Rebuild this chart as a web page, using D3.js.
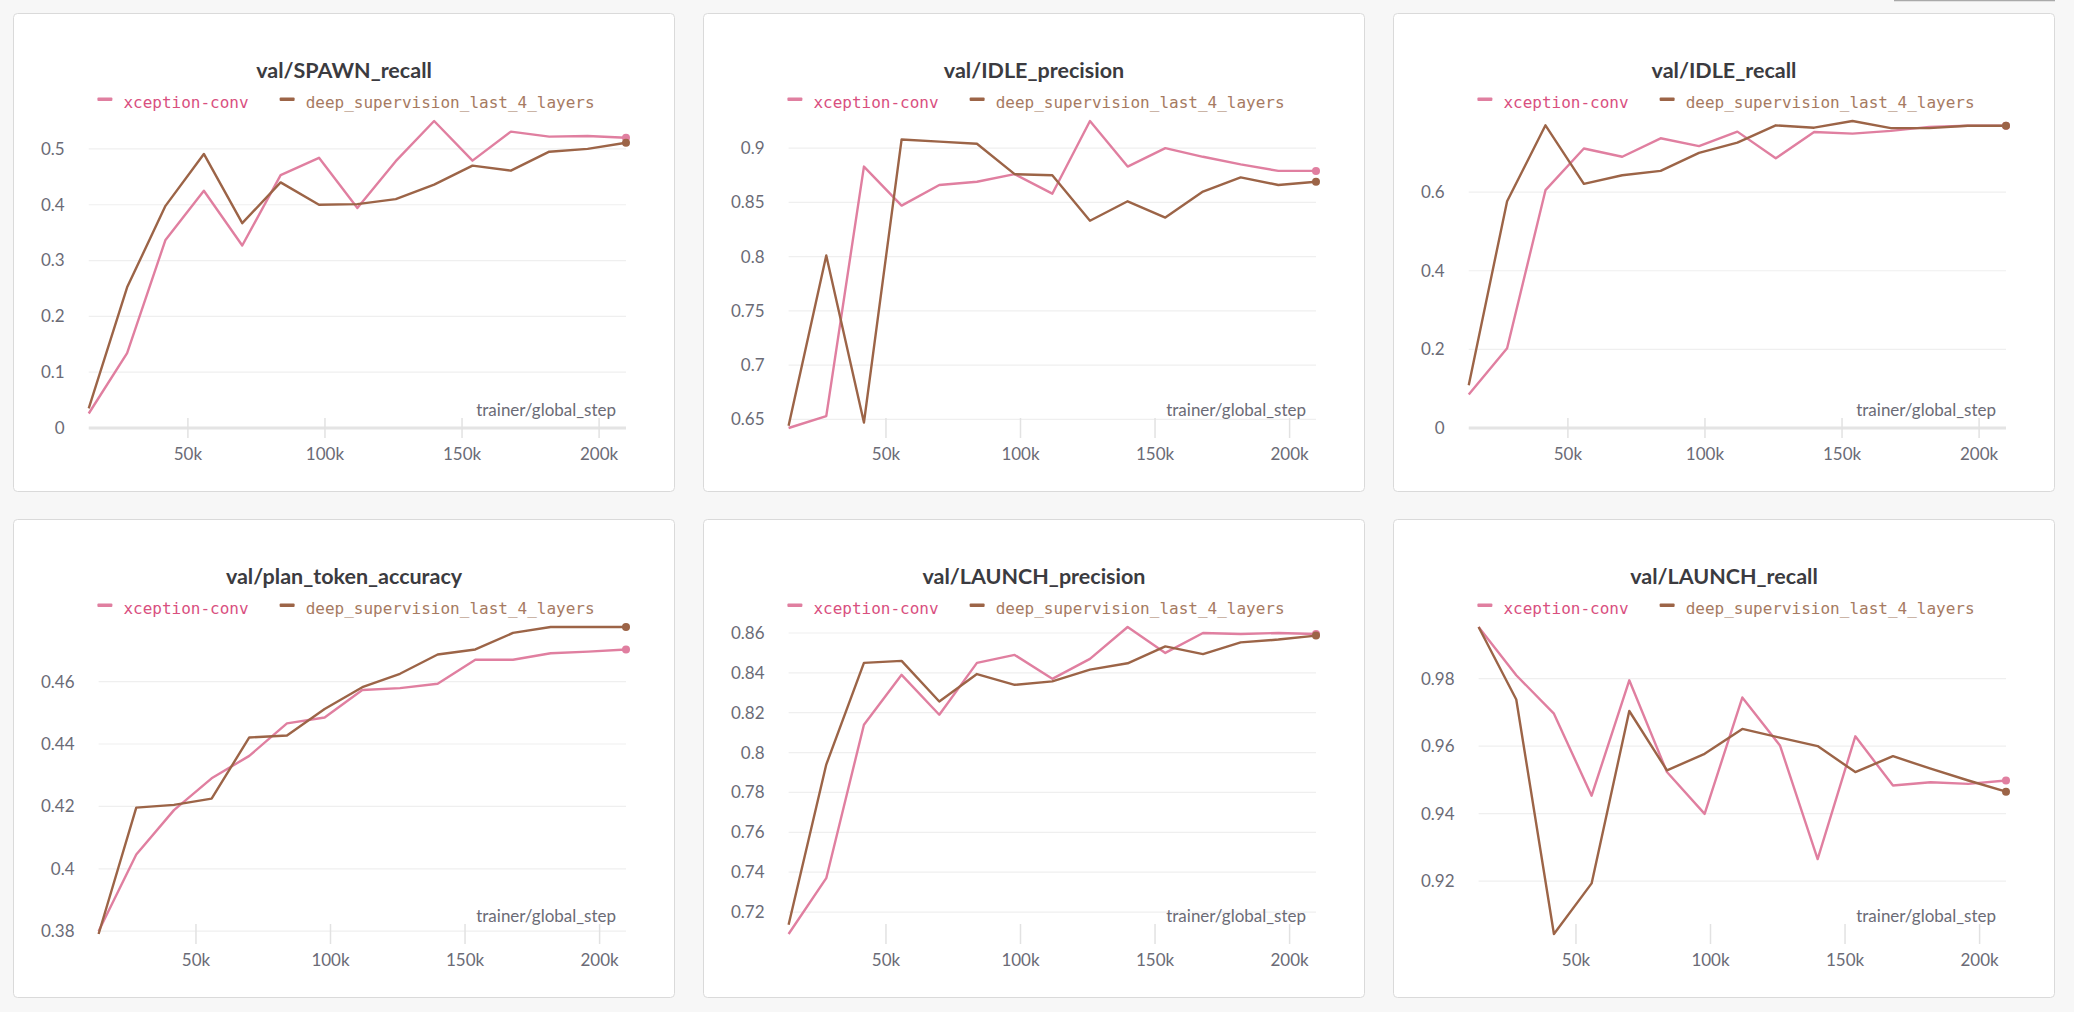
<!DOCTYPE html>
<html>
<head>
<meta charset="utf-8">
<script src="https://cdn.jsdelivr.net/npm/d3@7"></script>
<style>
  body { margin: 0; background: #f7f7f7; }
  svg { display: block; }
</style>
</head>
<body>
<div id="chart"></div>
<script>
// global steps shared by every run
const steps = [14000, 28000, 42000, 56000, 70000, 84000, 98000, 112000, 126000, 140000, 154000, 168000, 182000, 196000, 210000];
const xTicks = [50000, 100000, 150000, 200000];
const runNames = ["xception-conv", "deep_supervision_last_4_layers"];

// values
const spawnRecallXception = [0.026, 0.134, 0.337, 0.425, 0.327, 0.453, 0.484, 0.394, 0.478, 0.550, 0.479, 0.531, 0.522, 0.523, 0.520];
const spawnRecallDeep = [0.035, 0.252, 0.398, 0.491, 0.367, 0.440, 0.400, 0.401, 0.410, 0.436, 0.470, 0.461, 0.495, 0.500, 0.511];

const idlePrecisionXception = [0.642, 0.653, 0.883, 0.847, 0.866, 0.869, 0.876, 0.858, 0.925, 0.883, 0.900, 0.892, 0.885, 0.879, 0.879];
const idlePrecisionDeep = [0.644, 0.801, 0.647, 0.908, 0.906, 0.904, 0.876, 0.875, 0.833, 0.851, 0.836, 0.860, 0.873, 0.866, 0.869];

const idleRecallXception = [0.085, 0.203, 0.605, 0.711, 0.690, 0.737, 0.717, 0.754, 0.686, 0.753, 0.749, 0.756, 0.766, 0.769, 0.769];
const idleRecallDeep = [0.109, 0.577, 0.770, 0.621, 0.643, 0.654, 0.700, 0.726, 0.770, 0.764, 0.781, 0.763, 0.763, 0.769, 0.769];

const planAccXception = [0.380, 0.4046, 0.4188, 0.429, 0.4362, 0.4466, 0.4485, 0.4573, 0.4579, 0.4593, 0.467, 0.467, 0.4691, 0.4696, 0.4703];
const planAccDeep = [0.3791, 0.4196, 0.4205, 0.4225, 0.4421, 0.4427, 0.4512, 0.4582, 0.4625, 0.4687, 0.4703, 0.4756, 0.4775, 0.4775, 0.4775];

const launchPrecisionXception = [0.709, 0.737, 0.814, 0.839, 0.819, 0.845, 0.849, 0.837, 0.847, 0.863, 0.850, 0.860, 0.8595, 0.860, 0.8595];
const launchPrecisionDeep = [0.7136, 0.794, 0.845, 0.846, 0.8256, 0.8394, 0.834, 0.8357, 0.8416, 0.8448, 0.8533, 0.8494, 0.8553, 0.8567, 0.8587];

const launchRecallXception = [0.9953, 0.981, 0.9696, 0.9453, 0.9795, 0.9523, 0.9399, 0.9744, 0.9602, 0.9265, 0.9629, 0.9483, 0.9493, 0.9488, 0.9498];
const launchRecallDeep = [0.9953, 0.9738, 0.9043, 0.9193, 0.9704, 0.9528, 0.9577, 0.9651, 0.9625, 0.960, 0.9523, 0.957, 0.9533, 0.9498, 0.9465];

const panels = [
  { title: "val/SPAWN_recall", series: [spawnRecallXception, spawnRecallDeep], fromZero: true },
  { title: "val/IDLE_precision", series: [idlePrecisionXception, idlePrecisionDeep], fromZero: false },
  { title: "val/IDLE_recall", series: [idleRecallXception, idleRecallDeep], fromZero: true },
  { title: "val/plan_token_accuracy", series: [planAccXception, planAccDeep], fromZero: false },
  { title: "val/LAUNCH_precision", series: [launchPrecisionXception, launchPrecisionDeep], fromZero: false },
  { title: "val/LAUNCH_recall", series: [launchRecallXception, launchRecallDeep], fromZero: false }
];

const W = 2074, H = 1012;
const lineColors = ["#e07fa0", "#9c6447"];
const textColors = ["#d9507f", "#a67a62"];
const sans = "'Source Sans Pro', Lato, 'Open Sans', sans-serif";
const mono = "'DejaVu Sans Mono', 'Liberation Mono', monospace";

const colLeft = [13, 703, 1393];
const rowTop = [13, 519];
const panelW = 662, panelH = 479;

const svg = d3.select("#chart").append("svg")
  .attr("width", W).attr("height", H);

// bit of the toolbar button peeking in at the top right
svg.append("line")
  .attr("x1", 1894).attr("x2", 2055).attr("y1", 0.5).attr("y2", 0.5)
  .attr("stroke", "#a9a9a9").attr("stroke-width", 1.5);

const fmtY = d => String(+d.toFixed(6));

panels.forEach((p, idx) => {
  const px = colLeft[idx % 3], py = rowTop[Math.floor(idx / 3)];
  const g = svg.append("g").attr("transform", `translate(${px},${py})`);

  g.append("rect")
    .attr("x", 0.5).attr("y", 0.5)
    .attr("width", panelW - 1).attr("height", panelH - 1)
    .attr("rx", 4)
    .attr("fill", "#fff").attr("stroke", "#dadada");

  g.append("text")
    .attr("x", panelW / 2).attr("y", 65)
    .attr("text-anchor", "middle")
    .attr("font-family", sans).attr("font-weight", 700).attr("font-size", 21.5)
    .attr("fill", "#3b3b40")
    .text(p.title);

  // legend, centered on the panel
  const leg = g.append("g");
  let lx = 0;
  runNames.forEach((name, i) => {
    leg.append("rect")
      .attr("x", lx).attr("y", 84.5).attr("width", 15).attr("height", 3.5)
      .attr("rx", 1).attr("fill", lineColors[i]);
    const t = leg.append("text")
      .attr("x", lx + 26).attr("y", 95)
      .attr("font-family", mono).attr("font-size", 16)
      .attr("fill", textColors[i])
      .text(name);
    lx += 26 + t.node().getComputedTextLength() + 31;
  });
  const legW = lx - 31;
  leg.attr("transform", `translate(${(panelW - legW) / 2 + 2},0)`);

  const all = p.series.flat();
  const yMin = p.fromZero ? 0 : d3.min(all);
  const yMax = d3.max(all);
  const top = 108, bottom = 415, right = 613;

  const yTmp = d3.scaleLinear().domain([yMin, yMax]);
  const yTickVals = yTmp.ticks(5).filter(v => v >= yMin - 1e-9 && v <= yMax + 1e-9);

  // measure tick labels to place the plot's left edge
  const labels = g.append("g");
  labels.selectAll("text").data(yTickVals).join("text")
    .attr("font-family", sans).attr("font-size", 17)
    .attr("fill", "#6b6b76")
    .attr("text-anchor", "end")
    .text(fmtY);
  const maxLab = d3.max(labels.selectAll("text").nodes(), n => n.getComputedTextLength());
  const left = 28 + maxLab + 24;

  const x = d3.scaleLinear().domain([steps[0], steps[steps.length - 1]]).range([left, right]);
  const y = d3.scaleLinear().domain([yMin, yMax]).range([bottom, top]);

  labels.selectAll("text")
    .attr("x", left - 24)
    .attr("y", d => y(d))
    .attr("dy", "0.35em");

  // grid
  g.append("g").selectAll("line").data(yTickVals).join("line")
    .attr("x1", left).attr("x2", right)
    .attr("y1", d => y(d)).attr("y2", d => y(d))
    .attr("stroke", d => d === 0 ? "#e4e4e4" : "#efefef")
    .attr("stroke-width", d => d === 0 ? 3 : 1.2);

  // x axis ticks
  const xAxis = d3.axisBottom(x)
    .tickValues(xTicks)
    .tickSize(10)
    .tickFormat(d => d / 1000 + "k");
  const xa = g.append("g").attr("transform", `translate(0,${bottom})`).call(xAxis);
  xa.select(".domain").remove();
  xa.selectAll(".tick line")
    .attr("y1", -10).attr("y2", 10)
    .attr("stroke", "#e2e2e2").attr("stroke-width", 1.5);
  xa.selectAll(".tick text")
    .attr("y", 20).attr("dy", "0.71em")
    .attr("font-family", sans).attr("font-size", 17)
    .attr("fill", "#6b6b76");

  g.append("text")
    .attr("x", right - 10).attr("y", bottom - 12)
    .attr("text-anchor", "end")
    .attr("font-family", sans).attr("font-size", 17)
    .attr("fill", "#6b6b76")
    .text("trainer/global_step");

  const line = d3.line()
    .x((d, i) => x(steps[i]))
    .y(d => y(d));

  p.series.forEach((vals, i) => {
    g.append("path")
      .datum(vals)
      .attr("d", line)
      .attr("fill", "none")
      .attr("stroke", lineColors[i])
      .attr("stroke-width", 2.4)
      .attr("stroke-linejoin", "round");
  });
  p.series.forEach((vals, i) => {
    g.append("circle")
      .attr("cx", x(steps[steps.length - 1]))
      .attr("cy", y(vals[vals.length - 1]))
      .attr("r", 4)
      .attr("fill", lineColors[i]);
  });
});
</script>
</body>
</html>
